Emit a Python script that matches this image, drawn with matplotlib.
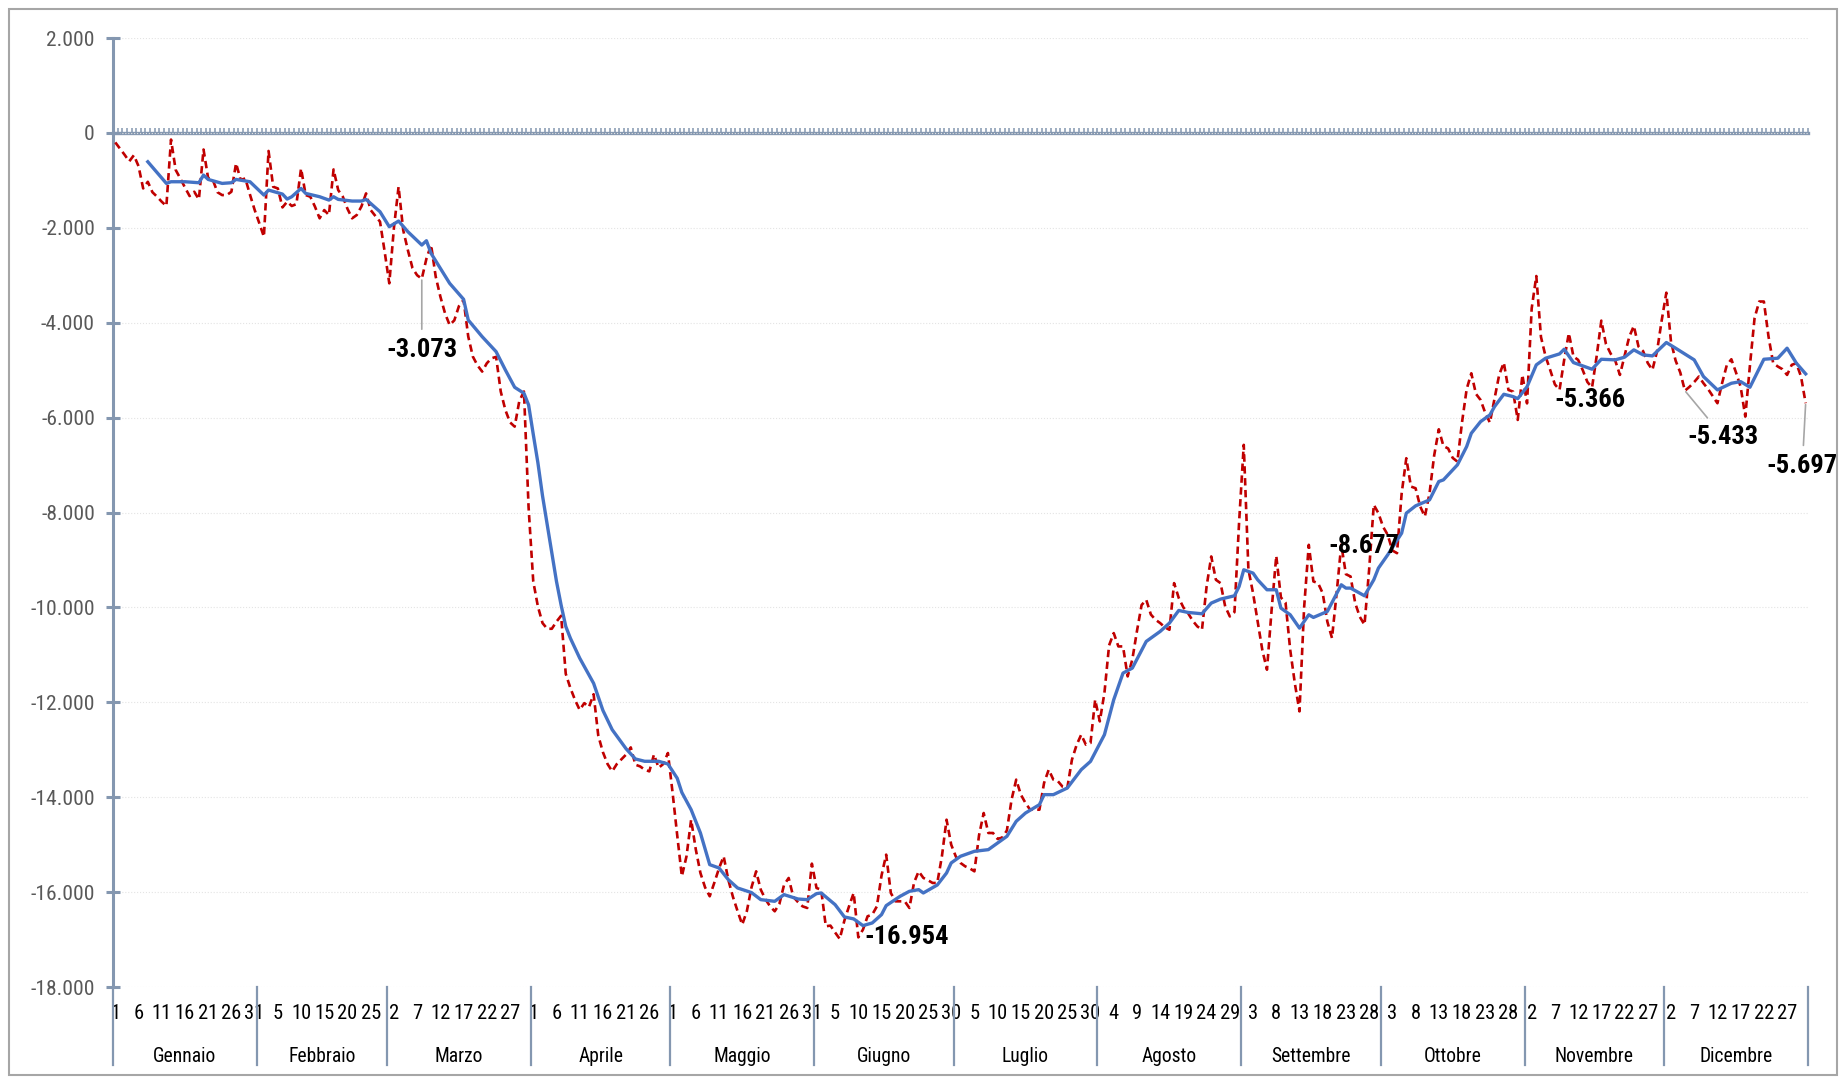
import os
import numpy as np
import matplotlib
matplotlib.use("Agg")
import matplotlib.pyplot as plt
import matplotlib.transforms as mtransforms
from matplotlib import font_manager as fm
from matplotlib.textpath import TextPath
from matplotlib.ticker import FuncFormatter, MultipleLocator
from matplotlib.patches import Rectangle

months = ["Gennaio", "Febbraio", "Marzo", "Aprile", "Maggio", "Giugno",
          "Luglio", "Agosto", "Settembre", "Ottobre", "Novembre", "Dicembre"]
month_days = [31, 28, 31, 30, 31, 30, 31, 31, 30, 31, 30, 31]

# daily values (red dashed)
red_gen = [-200, -330, -460, -600, -470, -700, -1170, -1030, -1250, -1345, -1450, -1540,
           -140, -780, -960, -1150, -1330, -1240, -1400, -350, -960, -990, -1250, -1310,
           -1310, -1240, -640, -990, -960, -1300, -1620]
red_feb = [-1900, -2188, -380, -1135, -1170, -1570, -1450, -1540, -1500, -750, -1310, -1345,
           -1555, -1800, -1626, -1730, -770, -1205, -1345, -1600, -1800, -1730, -1550, -1275,
           -1626, -1750, -1870, -2500]
red_mar = [-3170, -2000, -1135, -2050, -2470, -2850, -3000, -3073, -2650, -2360, -3030, -3450,
           -3800, -4050, -3950, -3650, -3520, -4290, -4715, -4900, -5030, -4855, -4750, -4720,
           -5450, -5840, -6100, -6190, -5650, -5450, -7900]
red_apr = [-9450, -9980, -10330, -10450, -10450, -10300, -10176, -11400, -11700, -11950,
           -12160, -12017, -12100, -11830, -12700, -13050, -13300, -13455, -13300, -13200,
           -13100, -12950, -13315, -13350, -13420, -13455, -13100, -13380, -13300, -13069]
red_mag = [-13900, -14800, -15667, -15246, -14474, -15100, -15597, -15900, -16088, -15800,
           -15500, -15246, -15737, -16100, -16400, -16685, -16400, -15900, -15562, -15950,
           -16150, -16300, -16404, -16250, -15850, -15702, -16100, -16210, -16300, -16334,
           -15400]
red_giu = [-15913, -15950, -16720, -16706, -16850, -16987, -16600, -16300, -16018, -16954,
           -16790, -16509, -16474, -16300, -15650, -15210, -16018, -16194, -16194, -16194,
           -16334, -15800, -15562, -15700, -15750, -15807, -15807, -15246, -14474, -15000]
red_lug = [-15250, -15385, -15456, -15500, -15562, -14800, -14333, -14754, -14754, -14880,
           -14850, -14700, -14052, -13630, -13946, -14122, -14263, -14263, -14263, -13700,
           -13420, -13630, -13665, -13780, -13806, -13210, -12900, -12682, -12893, -12858,
           -11946]
red_ago = [-12402, -11800, -10800, -10541, -10822, -10822, -11454, -11100, -10500, -9950,
           -9839, -10150, -10260, -10330, -10420, -10471, -9488, -9800, -10000, -10120,
           -10280, -10400, -10471, -9558, -8926, -9418, -9488, -9979, -10190, -10100, -8200]
red_set = [-6574, -9200, -9699, -10300, -10900, -11313, -10050, -8913, -9790, -9900,
           -10892, -11600, -12191, -10000, -8681, -9453, -9488, -9700, -10300, -10646,
           -9699, -8677, -9300, -9348, -9910, -10200, -10366, -9200, -7838, -8014]
red_ott = [-8300, -8470, -8800, -8857, -7600, -6856, -7453, -7488, -7874, -8084, -7600,
           -6800, -6246, -6600, -6650, -6850, -6927, -6100, -5400, -5066, -5500, -5628,
           -5900, -6105, -5600, -5100, -4841, -5417, -5452, -6049, -5100]
red_nov = [-5700, -3700, -3016, -4300, -4713, -5000, -5300, -5416, -4783, -4221, -4713,
           -4783, -5000, -5250, -5366, -4700, -3956, -4450, -4650, -4800, -5100, -4700,
           -4300, -4068, -4502, -4600, -4850, -4994, -4600, -3950]
red_dic = [-3367, -4400, -4800, -5050, -5433, -5350, -5250, -5135, -5276, -5400, -5550,
           -5697, -5276, -4900, -4770, -5050, -5350, -5979, -4900, -3900, -3553, -3553,
           -4291, -4850, -4923, -4980, -5100, -4888, -4853, -5135, -5697]

# moving average (blue)
blue_days = [8, 12, 13, 16, 19, 20, 21, 24, 26, 27, 30, 33, 34, 37, 38, 39, 41, 42, 45, 47,
             48, 49, 52, 54, 55, 58, 60, 62, 64, 67, 68, 69, 73, 76, 77, 80, 83, 85, 87, 89,
             90, 91, 92, 93, 94, 95, 96, 97, 98, 99, 101, 104, 106, 108, 111, 113, 115, 118,
             120, 122, 123, 125, 127, 129, 131, 133, 135, 138, 140, 143, 145, 148, 150, 152,
             153, 156, 158, 160, 162, 164, 166, 167, 170, 172, 174, 175, 178, 180, 181, 183,
             186, 189, 191, 193, 195, 197, 200, 201, 203, 206, 209, 211, 214, 216, 218, 220,
             223, 226, 228, 230, 232, 235, 237, 239, 242, 243, 244, 246, 247, 249, 251, 252,
             254, 256, 258, 259, 262, 265, 266, 267, 270, 272, 273, 275, 278, 279, 281, 284,
             286, 287, 290, 292, 293, 295, 297, 298, 300, 302, 303, 305, 307, 309, 312, 313,
             315, 319, 321, 324, 326, 328, 330, 332, 335, 337, 341, 343, 346, 349, 351, 353,
             356, 359, 361, 363, 365]
blue_vals = [-608, -1064, -1029, -1029, -1050, -889, -980, -1064, -1050, -980, -1029, -1310,
             -1205, -1289, -1394, -1345, -1170, -1275, -1345, -1415, -1345, -1401, -1436,
             -1436, -1401, -1661, -1977, -1857, -2082, -2363, -2272, -2539, -3170, -3507,
             -3943, -4294, -4610, -4996, -5361, -5487, -5733, -6350, -6950, -7650, -8250,
             -8850, -9450, -9950, -10400, -10650, -11068, -11600, -12170, -12577, -12980,
             -13194, -13243, -13243, -13300, -13600, -13900, -14263, -14754, -15421, -15491,
             -15737, -15913, -16010, -16159, -16194, -16053, -16145, -16159, -16032, -16018,
             -16264, -16523, -16565, -16706, -16650, -16474, -16285, -16088, -15983, -15948,
             -16018, -15850, -15597, -15385, -15245, -15140, -15105, -14964, -14824, -14508,
             -14333, -14157, -13946, -13946, -13806, -13420, -13245, -12682, -11946, -11384,
             -11279, -10717, -10506, -10330, -10064, -10106, -10134, -9909, -9825, -9755,
             -9558, -9207, -9277, -9418, -9628, -9628, -10014, -10155, -10436, -10155,
             -10211, -10085, -9523, -9593, -9593, -9755, -9418, -9172, -8892, -8435, -8014,
             -7860, -7734, -7347, -7312, -6997, -6610, -6330, -6084, -5944, -5768, -5508,
             -5557, -5600, -5350, -4888, -4748, -4657, -4559, -4840, -4980, -4770, -4783,
             -4727, -4572, -4678, -4699, -4417, -4537, -4783, -5135, -5416, -5276, -5241,
             -5360, -4770, -4748, -4537, -4853, -5078]

# labelled days and where their labels sit (offset in points)
label_days = [67, 161, 265, 319, 339, 365]
label_offsets = [(0, -51), (34.5, 0), (16.5, -0.7), (-1.3, -9), (27.6, -33.3), (-2.4, -45)]
label_leader = [True, False, False, False, True, True]

AXIS_C = "#8497B0"


def it_fmt(v, pos=None):
    return f"{v:,.0f}".replace(",", ".")


def condensed_font(bold):
    """Look for an installed narrow/condensed sans face, else plain Liberation Sans."""
    prefs = ["liberation sans narrow", "arial narrow", "roboto condensed", "roboto",
             "noto sans", "open sans", "lato", "inter"]
    target = 700 if bold else 400
    best, best_score = None, None
    for f in fm.fontManager.ttflist:
        key = (f.name + " " + os.path.basename(f.fname)).lower()
        if not ("narrow" in key or "condensed" in key):
            continue
        if "dejavu" in key or "italic" in key or "oblique" in key or f.style != "normal":
            continue
        if "cjk" in key or "mono" in key:
            continue
        rank = next((i for i, p in enumerate(prefs) if p in key), len(prefs))
        pen = 50 if any(t in key for t in ("semicondensed", "extracondensed", "ultracondensed",
                                            "semi condensed", "extra condensed")) else 0
        w = f.weight if isinstance(f.weight, (int, float)) else fm.weight_dict.get(f.weight, 400)
        score = rank * 1000 + abs(w - target) + pen
        if best_score is None or score < best_score:
            best, best_score = f.fname, score
    if best:
        return fm.FontProperties(fname=best)
    return fm.FontProperties(family=["Liberation Sans", "DejaVu Sans"],
                             weight="bold" if bold else "normal")


def fit_size(prop, sample, w_px, h_px, h_sample):
    # font size (pt) so the ink of `sample` is w_px wide, capped by the glyph height
    w10 = TextPath((0, 0), sample, size=10, prop=prop).get_extents().width
    h10 = TextPath((0, 0), h_sample, size=10, prop=prop).get_extents().height
    return min(10 * w_px * 0.72 / w10, 10 * h_px * 0.72 / h10)


f_reg = condensed_font(False)
f_bold = condensed_font(True)
sz_y = fit_size(f_reg, "-18.000", 73, 15.7, "0")
sz_day = fit_size(f_reg, "26", 18.3, 15, "2")
sz_mon = fit_size(f_reg, "Gennaio", 65, 14.3, "G")
sz_lab = fit_size(f_bold, "-3.073", 68, 20.5, "3")


def fp(base, size):
    p = base.copy()
    p.set_size(size)
    return p


red = np.array(red_gen + red_feb + red_mar + red_apr + red_mag + red_giu +
               red_lug + red_ago + red_set + red_ott + red_nov + red_dic)
days = np.arange(1, len(red) + 1)

fig = plt.figure(figsize=(18.43, 10.8), dpi=100)
ax = fig.add_axes([0.0613, 0.0861, 0.9197, 0.8787])

ax.plot(days, red, color="#C00000", lw=1.9, ls=(0, (2.8, 1.7)), zorder=3)
ax.plot(blue_days, blue_vals, color="#4472C4", lw=2.4, zorder=4)

ax.set_xlim(0.5, 365.5)
ax.set_ylim(-18000, 2000)

for s in ["top", "right", "bottom"]:
    ax.spines[s].set_visible(False)
ax.spines["left"].set_color(AXIS_C)
ax.spines["left"].set_linewidth(2.2)

ax.yaxis.set_major_locator(MultipleLocator(2000))
ax.yaxis.set_major_formatter(FuncFormatter(it_fmt))
ax.tick_params(axis="y", direction="inout", length=10, width=2.2, color=AXIS_C,
               labelcolor="#595959", pad=8)
for t in ax.get_yticklabels():
    t.set_fontproperties(fp(f_reg, sz_y))
ax.grid(axis="y", color="#E4E4E4", lw=0.8, ls=":")
ax.set_axisbelow(True)

# day labels every 5 days
starts = np.concatenate([[0], np.cumsum(month_days)])
tick_days = np.arange(1, 366, 5)
tick_lbls = []
for d in tick_days:
    m = np.searchsorted(starts, d, side="left") - 1
    tick_lbls.append(str(d - starts[m]))
ax.set_xticks(tick_days)
ax.set_xticklabels(tick_lbls, fontproperties=fp(f_reg, sz_day))
ax.tick_params(axis="x", length=0, pad=12, labelcolor="#000000")

# category axis crossing at 0
sec = ax.secondary_xaxis(0, transform=ax.transData)
sec.set_xticks(np.arange(0.5, 366, 1))
sec.set_xticklabels([])
sec.tick_params(direction="in", length=3.5, width=1.1, color=AXIS_C)
for sp in sec.spines.values():
    sp.set_color(AXIS_C)
    sp.set_linewidth(2.4)

# month dividers and names
trans = mtransforms.blended_transform_factory(ax.transData, ax.transAxes)
for b in starts + 0.5:
    ax.plot([b, b], [0, -0.082], transform=trans, color=AXIS_C, lw=1.6, clip_on=False)
for i, name in enumerate(months):
    mid = (starts[i] + starts[i + 1]) / 2 + 0.5
    ax.text(mid, -0.073, name, transform=trans, ha="center", va="center",
            fontproperties=fp(f_reg, sz_mon), color="#000000")

# data labels
for d, off, lead in zip(label_days, label_offsets, label_leader):
    v = red[d - 1]
    ap = dict(arrowstyle="-", color="#A6A6A6", lw=1.2, shrinkA=4, shrinkB=1) if lead else None
    ax.annotate(it_fmt(v), xy=(d, v), xytext=off, textcoords="offset points",
                ha="center", va="center", fontproperties=fp(f_bold, sz_lab),
                color="#000000", arrowprops=ap, zorder=6)

fig.patches.append(Rectangle((0.0049, 0.0046), 0.9918, 0.987, transform=fig.transFigure,
                             fill=False, ec="#A6A6A6", lw=1.5))

fig.savefig("out.png", dpi=100)
